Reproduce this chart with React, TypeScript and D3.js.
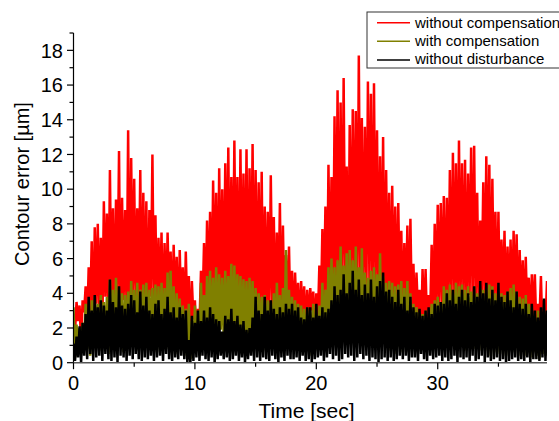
import React from "react";
import * as d3 from "d3";

// ---- data (sampled every 0.25 s; peaks = local maxima, lows = local minima) ----
const SAMPLE_STEP = 0.25;

const redPeaks = [
  2.8, 3.5, 3.3, 3.6, 4.4, 5.5, 7.0, 7.8, 8.0, 7.2, 9.3, 8.6,
  11.1, 8.9, 9.4, 12.2, 9.5, 8.8, 13.4, 11.8, 10.6, 8.9, 11.1, 9.8,
  9.3, 8.8, 12.0, 8.5, 7.2, 7.5, 6.9, 7.5, 6.4, 6.8, 6.1, 6.5,
  5.5, 6.4, 5.0, 4.7, 3.6, 3.1, 5.3, 6.9, 8.2, 8.7, 10.5, 9.8,
  11.2, 10.0, 11.5, 12.4, 10.7, 12.8, 10.7, 12.3, 10.9, 12.3, 11.2, 12.6,
  11.1, 10.4, 11.0, 9.0, 8.7, 10.8, 8.4, 7.5, 9.2, 7.9, 6.2, 6.7,
  5.3, 5.2, 4.6, 4.7, 4.4, 4.2, 4.3, 4.1, 4.0, 5.6, 7.7, 9.0,
  11.4, 10.7, 14.2, 15.7, 15.0, 16.4, 11.3, 13.7, 14.6, 14.5, 17.7, 14.1,
  13.6, 16.2, 15.5, 16.1, 13.4, 11.9, 13.0, 11.1, 9.8, 10.2, 9.0, 9.2,
  7.6, 6.9, 7.9, 8.3, 5.7, 5.2, 4.2, 5.4, 5.4, 3.9, 6.8, 8.0,
  9.1, 9.2, 9.6, 9.5, 11.1, 12.1, 11.5, 12.8, 11.5, 11.7, 10.9, 12.4,
  12.5, 9.8, 8.2, 10.4, 11.9, 11.4, 10.6, 8.7, 8.7, 7.1, 7.6, 6.7,
  7.1, 7.6, 7.4, 6.5, 5.9, 6.1, 4.9, 5.1, 5.1, 3.4, 5.0, 3.6,
  4.7,
];
const redLows = [
  1.8, 2.4, 1.2, 2.9, 2.1, 3.0, 1.6, 3.4, 2.6, 1.9, 3.8, 2.2,
  3.1, 2.5, 4.0, 1.7, 3.6, 2.8, 1.3, 3.9, 2.7, 3.5, 2.0, 3.2,
  1.5, 3.8, 2.9, 2.3, 3.3, 1.8, 2.6, 3.7, 2.4, 3.1, 1.6, 2.8,
  2.0, 2.7, 1.1, 2.5, 1.4, 2.2, 3.0, 2.6, 3.4, 2.8, 3.9, 2.1,
  3.5, 2.6, 3.8, 3.0, 2.9, 3.6, 2.2, 3.3, 2.8, 1.7, 3.4, 2.5,
  2.3, 3.0, 1.9, 2.7, 2.6, 3.3, 2.0, 2.8, 1.6, 2.4, 2.9, 2.1,
  2.0, 2.7, 1.8, 2.5, 1.7, 2.2, 3.0, 1.9, 2.4, 3.1, 3.7, 2.8,
  4.1, 3.2, 4.4, 3.6, 3.9, 4.6, 3.1, 4.2, 4.4, 3.5, 4.9, 3.8,
  4.0, 4.5, 3.3, 4.1, 3.2, 3.8, 2.9, 3.5, 2.7, 3.3, 2.4, 3.6,
  2.5, 3.0, 1.8, 2.6, 2.1, 2.8, 1.5, 2.3, 1.9, 2.6, 2.2, 3.0,
  2.8, 3.3, 2.5, 3.6, 3.0, 3.7, 2.8, 3.4, 3.5, 2.7, 3.9, 3.1,
  3.6, 2.9, 3.8, 3.2, 3.3, 2.6, 3.5, 2.9, 2.8, 3.4, 2.4, 3.0,
  2.6, 3.1, 2.2, 2.8, 2.3, 2.7, 1.9, 2.5, 1.8, 2.4, 1.6, 2.2,
  1.9,
];

const olivePeaks = [
  3.2, 2.2, 2.0, 2.3, 3.4, 3.0, 3.6, 3.8, 3.4, 3.9, 3.5, 3.8,
  4.8, 4.2, 4.9, 4.2, 4.0, 3.9, 4.1, 4.7, 4.2, 4.6, 4.2, 4.5,
  4.6, 4.2, 4.3, 4.5, 4.4, 4.6, 4.3, 5.2, 5.3, 4.4, 4.0, 3.7,
  3.3, 3.1, 3.4, 2.4, 3.3, 3.0, 4.6, 3.9, 5.0, 5.3, 4.9, 5.5,
  5.1, 4.9, 5.3, 5.0, 5.7, 5.6, 5.1, 5.0, 4.8, 4.7, 4.9, 4.7,
  4.3, 4.0, 3.8, 3.9, 3.6, 3.5, 4.0, 4.6, 3.9, 4.3, 6.5, 4.2,
  3.8, 3.6, 3.4, 3.3, 3.1, 3.2, 3.0, 3.4, 2.8, 3.3, 4.6, 4.2,
  5.5, 6.0, 5.5, 5.9, 6.7, 5.6, 6.3, 6.5, 5.9, 6.7, 5.5, 6.6,
  5.2, 4.9, 5.3, 5.5, 5.1, 6.3, 5.0, 4.6, 4.7, 4.6, 4.4, 4.5,
  4.7, 4.3, 4.7, 4.0, 3.4, 3.2, 2.9, 2.8, 3.0, 2.7, 3.4, 3.6,
  3.8, 3.5, 4.4, 4.2, 4.5, 4.2, 4.6, 4.4, 4.5, 4.2, 4.4, 4.1,
  4.4, 4.0, 4.3, 4.2, 4.3, 4.5, 4.4, 4.0, 4.2, 4.0, 3.9, 4.1,
  4.3, 4.5, 4.1, 3.8, 3.7, 3.9, 3.4, 3.2, 2.6, 3.0, 2.4, 2.8,
  3.0,
];
const oliveLows = [
  0.3, 0.9, 0.6, 1.2, 0.8, 0.4, 1.4, 1.0, 0.7, 1.5, 1.1, 0.5,
  1.3, 0.8, 1.6, 1.1, 0.6, 1.3, 0.9, 1.5, 1.0, 0.7, 1.3, 0.8,
  1.5, 1.0, 1.2, 0.6, 1.1, 1.6, 0.8, 1.4, 0.9, 0.5, 1.2, 0.7,
  0.4, 1.0, 0.2, 0.8, 0.7, 0.4, 1.3, 1.0, 1.6, 1.2, 1.8, 1.4,
  1.9, 1.3, 1.7, 2.0, 1.5, 1.8, 1.3, 1.7, 1.4, 1.0, 1.6, 1.2,
  0.9, 1.3, 0.7, 1.1, 1.0, 1.5, 0.8, 1.3, 1.1, 1.6, 0.9, 1.3,
  1.0, 0.7, 1.2, 0.9, 0.6, 1.0, 0.4, 0.8, 0.7, 1.3, 1.0, 1.6,
  1.4, 1.9, 1.5, 2.0, 1.7, 2.1, 1.4, 1.8, 1.7, 1.3, 1.9, 1.5,
  1.3, 1.7, 1.1, 1.6, 1.2, 0.9, 1.4, 1.0, 0.7, 1.1, 0.5, 0.9,
  0.6, 1.0, 0.6, 1.0, 0.9, 1.3, 0.7, 1.2, 1.0, 1.5, 1.0, 1.3,
  1.2, 0.8, 1.4, 1.1, 1.0, 1.3, 0.9, 1.3, 1.1, 0.7, 1.2, 0.9,
  0.8, 1.1, 0.7, 1.0, 0.7, 0.4, 0.9, 0.6, 0.5, 0.8, 0.4, 0.7,
  0.6, 0.9, 0.4, 0.7, 0.4, 0.7, 0.3, 0.6, 0.4, 0.2, 0.5, 0.4,
  0.4,
];

const blackPeaks = [
  1.1, 1.5, 2.1, 2.3, 2.8, 3.8, 3.0, 3.9, 3.2, 3.6, 3.3, 3.0,
  4.8, 3.5, 3.2, 4.4, 3.3, 3.1, 3.4, 3.9, 3.6, 2.9, 4.1, 3.3,
  3.8, 3.0, 2.8, 3.4, 3.6, 2.8, 3.1, 3.8, 2.9, 3.2, 2.6, 3.2,
  2.8, 3.0, 1.3, 2.7, 2.3, 3.0, 2.4, 3.0, 2.6, 3.2, 2.8, 2.5,
  2.4, 1.8, 2.7, 2.5, 3.1, 2.4, 2.7, 2.2, 2.4, 1.9, 2.0, 2.6,
  3.8, 3.0, 2.8, 3.8, 3.0, 3.6, 3.1, 2.8, 3.2, 2.9, 3.4, 3.1,
  3.4, 3.0, 3.2, 2.6, 2.5, 3.2, 3.2, 2.6, 3.4, 2.7, 3.2, 2.9,
  3.1, 3.6, 4.4, 3.9, 4.2, 5.1, 4.0, 4.6, 5.3, 4.2, 4.8, 3.9,
  4.5, 4.0, 4.8, 3.8, 4.4, 4.7, 5.2, 4.1, 4.2, 3.8, 3.5, 4.2,
  3.4, 3.8, 3.0, 3.8, 3.2, 2.9, 3.1, 2.7, 3.0, 3.2, 2.8, 3.4,
  3.3, 3.5, 3.4, 4.0, 3.6, 4.2, 3.4, 3.8, 4.2, 3.6, 4.0, 3.5,
  4.4, 3.8, 4.7, 4.0, 4.6, 3.7, 4.2, 3.6, 4.6, 3.8, 3.5, 4.1,
  3.6, 3.2, 4.1, 3.4, 3.1, 3.4, 2.8, 3.4, 3.0, 2.6, 3.2, 3.7,
  3.0,
];
const blackLows = [
  0.1, 0.3, 0.0, 0.4, 0.2, 0.5, 0.1, 0.3, 0.4, 0.1, 0.5, 0.2,
  0.1, 0.3, 0.0, 0.4, 0.3, 0.1, 0.4, 0.2, 0.5, 0.2, 0.1, 0.3,
  0.2, 0.4, 0.1, 0.3, 0.4, 0.1, 0.5, 0.2, 0.1, 0.3, 0.2, 0.4,
  0.2, 0.0, 0.0, 0.1, 0.3, 0.1, 0.4, 0.2, 0.1, 0.3, 0.0, 0.2,
  0.4, 0.2, 0.3, 0.1, 0.2, 0.4, 0.1, 0.3, 0.0, 0.2, 0.4, 0.1,
  0.3, 0.1, 0.3, 0.2, 0.1, 0.4, 0.2, 0.0, 0.3, 0.1, 0.4, 0.2,
  0.2, 0.3, 0.1, 0.4, 0.1, 0.2, 0.0, 0.2, 0.3, 0.4, 0.1, 0.3,
  0.5, 0.2, 0.4, 0.1, 0.2, 0.5, 0.3, 0.4, 0.1, 0.3, 0.5, 0.2,
  0.4, 0.1, 0.3, 0.2, 0.0, 0.2, 0.3, 0.1, 0.3, 0.1, 0.2, 0.4,
  0.2, 0.4, 0.1, 0.3, 0.3, 0.1, 0.5, 0.2, 0.1, 0.4, 0.2, 0.3,
  0.4, 0.1, 0.3, 0.1, 0.2, 0.4, 0.0, 0.3, 0.2, 0.3, 0.1, 0.4,
  0.1, 0.2, 0.4, 0.0, 0.3, 0.1, 0.2, 0.3, 0.1, 0.2, 0.0, 0.1,
  0.2, 0.3, 0.1, 0.2, 0.1, 0.3, 0.0, 0.2, 0.2, 0.1, 0.3, 0.1,
  0.2,
];

const seriesNames = ["without compensation", "with compensation", "without disturbance"];
const seriesColors = ["#ff0000", "#808000", "#000000"];
const xMajorTicks = [0, 10, 20, 30];
const xMinorTicks = [5, 15, 25, 35];
const yMajorTicks = [0, 2, 4, 6, 8, 10, 12, 14, 16, 18];
const yMinorTicks = [1, 3, 5, 7, 9, 11, 13, 15, 17, 19];

const FONT = "'Liberation Sans', Arial, Helvetica, sans-serif";

export default function App() {
  const left = 73.5, right = 547, top = 33, bottom = 362.7;
  const x = d3.scaleLinear().domain([0, 39]).range([left, right]);
  const y = d3.scaleLinear().domain([0, 19]).range([bottom, top]);

  const build = (peaks: number[], lows: number[]) => {
    const pts: [number, number][] = [];
    peaks.forEach((p, i) => {
      pts.push([i * SAMPLE_STEP, p]);
      if (i < lows.length) pts.push([i * SAMPLE_STEP + SAMPLE_STEP / 2, lows[i]]);
    });
    return pts;
  };
  const line = d3
    .line<[number, number]>()
    .x((d) => x(d[0]))
    .y((d) => y(d[1]));

  const series = [
    build(redPeaks, redLows),
    build(olivePeaks, oliveLows),
    build(blackPeaks, blackLows),
  ];

  return (
    <svg
      width={559}
      height={421}
      style={{ position: "absolute", left: 0, top: 0, background: "#fff" }}
      fontFamily={FONT}
    >
      <defs>
        <clipPath id="plotClip">
          <rect x={left} y={top} width={right - left} height={bottom - top + 1} />
        </clipPath>
      </defs>
      <rect x={0} y={0} width={559} height={421} fill="#fff" />
      <g clipPath="url(#plotClip)">
        {series.map((pts, i) => (
          <path
            key={i}
            d={line(pts) || ""}
            fill="none"
            stroke={seriesColors[i]}
            strokeWidth={2.5}
            strokeLinejoin="bevel"
          />
        ))}
      </g>

      {/* axes */}
      <line x1={left} x2={left} y1={top} y2={bottom} stroke="#000" strokeWidth={1.2} />
      <line x1={left} x2={right} y1={bottom} y2={bottom} stroke="#555" strokeWidth={1.6} />
      {yMajorTicks.map((t) => (
        <g key={"ym" + t}>
          <line x1={left - 6.5} x2={left} y1={y(t)} y2={y(t)} stroke="#000" strokeWidth={1.2} />
          <text x={63} y={y(t)} dy="0.36em" textAnchor="end" fontSize={20} fill="#000">
            {t}
          </text>
        </g>
      ))}
      {yMinorTicks.map((t) => (
        <line key={"yn" + t} x1={left - 4} x2={left} y1={y(t)} y2={y(t)} stroke="#000" strokeWidth={1.2} />
      ))}
      {xMajorTicks.map((t) => (
        <g key={"xm" + t}>
          <line x1={x(t)} x2={x(t)} y1={bottom} y2={bottom + 6.5} stroke="#000" strokeWidth={1.2} />
          <text x={x(t)} y={390} textAnchor="middle" fontSize={20} fill="#000">
            {t}
          </text>
        </g>
      ))}
      {xMinorTicks.map((t) => (
        <line key={"xn" + t} x1={x(t)} x2={x(t)} y1={bottom} y2={bottom + 4} stroke="#000" strokeWidth={1.2} />
      ))}

      {/* axis titles */}
      <text x={306.5} y={418} textAnchor="middle" fontSize={21} fill="#000">
        Time [sec]
      </text>
      <text
        transform="translate(28.5,184) rotate(-90)"
        textAnchor="middle"
        fontSize={20}
        fill="#000"
      >
        Contour error [µm]
      </text>

      {/* legend */}
      <rect x={367} y={12} width={210} height={56} fill="#fff" stroke="#333" strokeWidth={1} />
      {seriesNames.map((name, i) => (
        <g key={name}>
          <line
            x1={377}
            x2={410}
            y1={22.7 + i * 18.6}
            y2={22.7 + i * 18.6}
            stroke={seriesColors[i]}
            strokeWidth={1.5}
          />
          <text x={415} y={28 + i * 18.2} fontSize={15} fill="#000">
            {name}
          </text>
        </g>
      ))}
    </svg>
  );
}
